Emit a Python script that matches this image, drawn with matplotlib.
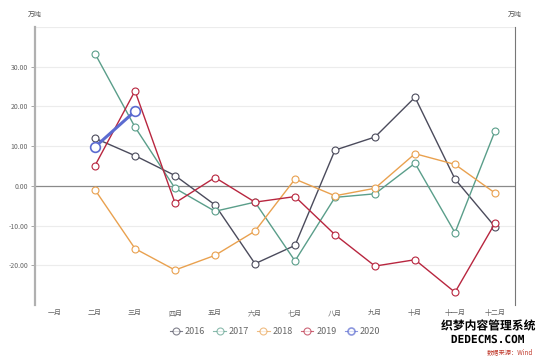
import matplotlib.pyplot as plt
import matplotlib.patheffects as pe
import numpy as np

plt.rcParams['font.family'] = ['Noto Sans CJK SC', 'DejaVu Sans']

# monthly change, 万吨
months = ['一月', '二月', '三月', '四月', '五月', '六月',
          '七月', '八月', '九月', '十月', '十一月', '十二月']
years = ['2016', '2017', '2018', '2019', '2020']
nan = np.nan
v2016 = [nan, 12.0, 7.6, 2.6, -4.8, -19.6, -15.0, 9.0, 12.3, 22.3, 1.7, -10.3]
v2017 = [nan, 33.3, 14.8, -0.6, -6.4, -4.1, -18.9, -2.9, -2.0, 5.7, -11.8, 13.8]
v2018 = [nan, -1.0, -15.8, -21.2, -17.5, -11.4, 1.7, -2.5, -0.6, 8.1, 5.4, -1.8]
v2019 = [nan, 5.1, 23.9, -4.3, 2.1, -4.1, -2.7, -12.3, -20.2, -18.6, -26.8, -9.4]
v2020 = [nan, 9.8, 18.8, nan, nan, nan, nan, nan, nan, nan, nan, nan]
series = [v2016, v2017, v2018, v2019, v2020]
y_ticks = [30, 20, 10, 0, -10, -20]

colors = ['#4b4b5c', '#5a9e8a', '#e9a14f', '#b8263f', '#5b6bd0']

fig = plt.figure(figsize=(5.5, 3.57), dpi=100)
ax = fig.add_axes([35 / 550, 1 - 305 / 357, 480 / 550, 278 / 357])

x = np.arange(len(months))
for i, (name, vals) in enumerate(zip(years, series)):
    big = name == '2020'
    ax.plot(x, vals, color=colors[i], lw=2.2 if big else 1.0,
            marker='o', markersize=7 if big else 5,
            markerfacecolor='white', markeredgecolor=colors[i],
            markeredgewidth=1.2 if big else 0.8, label=name, zorder=3 + i)

# grid and zero line
for g in [40, 30, 20, 10, -10, -20]:
    ax.axhline(g, color='#ececec', lw=0.8, zorder=0)
ax.axhline(0, color='#8a8a8a', lw=0.9, zorder=1)

ax.set_xlim(-0.5, 11.5)
ax.set_ylim(-30, 40)
ax.set_xticks(x)
ax.set_xticklabels(months)
ax.set_yticks(y_ticks)
ax.set_yticklabels([f'{v:.2f}' for v in y_ticks])
ax.tick_params(axis='x', length=0, pad=3, labelsize=5, labelcolor='#666666')
ax.tick_params(axis='y', length=3, width=0.6, color='#999999', pad=2,
               labelsize=5, labelcolor='#666666')

for s in ['top', 'bottom']:
    ax.spines[s].set_visible(False)
ax.spines['left'].set_color('#b0b0b0')
ax.spines['left'].set_linewidth(1.6)
ax.spines['right'].set_color('#777777')
ax.spines['right'].set_linewidth(0.8)

fig.text(35 / 550, 1 - 15 / 357, '万吨', fontsize=5, color='#555555', ha='center', va='center')
fig.text(515 / 550, 1 - 15 / 357, '万吨', fontsize=5, color='#555555', ha='center', va='center')

leg = ax.legend(loc='center', bbox_to_anchor=(0.5, 1 - 332 / 357), bbox_transform=fig.transFigure,
                ncol=5, frameon=False, fontsize=6.5, handlelength=1.4, handletextpad=0.3,
                columnspacing=0.9, labelcolor='#666666')
for h in leg.legend_handles:
    h.set_linewidth(0.8)
    h.set_markersize(5)
    h.set_alpha(0.7)

# watermark and source note
fig.text(488 / 550, 1 - 326 / 357, '织梦内容管理系统', fontsize=8.5, fontweight='bold', color='black',
         ha='center', va='center',
         path_effects=[pe.withStroke(linewidth=2, foreground='white')])
fig.text(488 / 550, 1 - 340 / 357, 'DEDECMS.COM', fontsize=8, fontweight='bold', color='black',
         ha='center', va='center', family='DejaVu Sans Mono',
         path_effects=[pe.withStroke(linewidth=2, foreground='white')])
fig.text(510 / 550, 1 - 352 / 357, '数据来源：Wind', fontsize=4.5, color='#c0392b', style='italic',
         ha='center', va='center')

fig.savefig('out.png', dpi=100, facecolor='white')
